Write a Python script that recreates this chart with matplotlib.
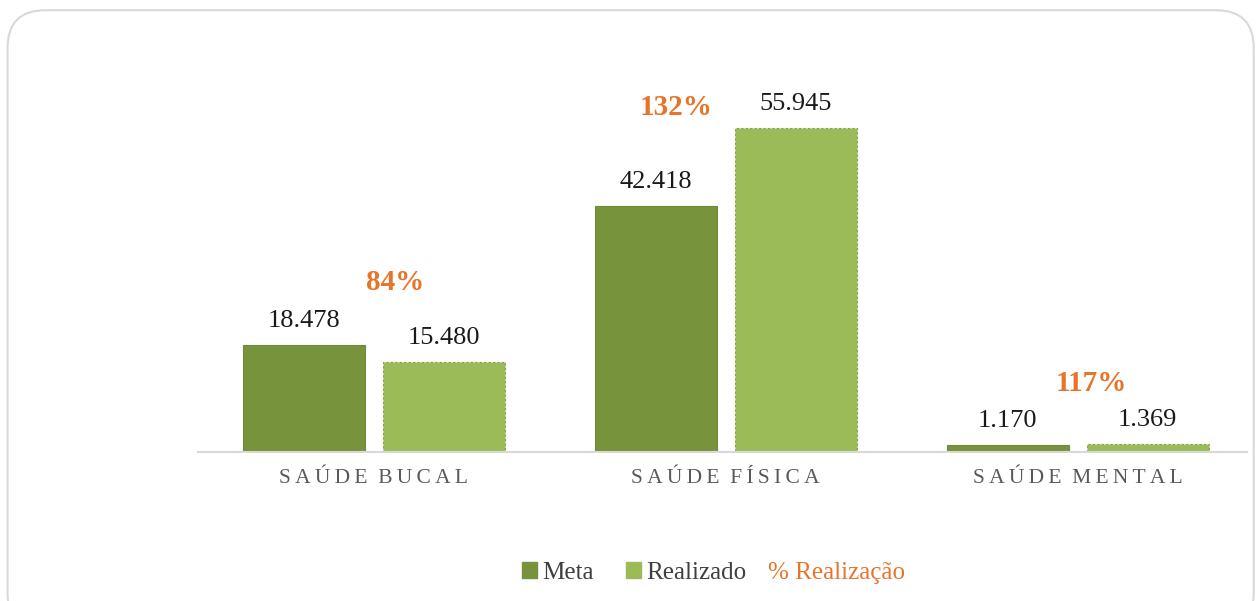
import numpy as np
import matplotlib.pyplot as plt
from matplotlib.patches import Patch, FancyBboxPatch

categories = ['SAÚDE BUCAL', 'SAÚDE FÍSICA', 'SAÚDE MENTAL']
meta = [18478, 42418, 1170]
realizado = [15480, 55945, 1369]
pct = ['84%', '132%', '117%']
# where the % labels sit (data units)
pct_y = [29200, 59400, 11800]
pct_dx = [0.06, -0.14, 0.04]

c_meta = '#77933C'
c_real = '#9BBB59'
c_orange = '#E8742A'

plt.rcParams['font.family'] = ['Liberation Serif', 'DejaVu Serif']

fig = plt.figure(figsize=(12.6, 6.01), dpi=100)
frame = FancyBboxPatch((0.006, -0.05), 0.989, 1.033, boxstyle='round,pad=0,rounding_size=0.03',
                       transform=fig.transFigure, fc='white', ec='#D9D9D9', lw=1.5,
                       mutation_aspect=1260 / 601, zorder=-5)
fig.patches.append(frame)

ax = fig.add_axes([0.157, 0.248, 0.838, 0.694])
ax.set_facecolor('none')

x = np.arange(len(categories))
w = 0.347
off = 0.199
b1 = ax.bar(x - off, meta, w, color=c_meta, edgecolor='#6F8A38', lw=0.8)
b2 = ax.bar(x + off, realizado, w, color=c_real, edgecolor='#86A34A', lw=0.8, linestyle=(0, (2, 2)))

for bars in (b1, b2):
    for r in bars:
        h = r.get_height()
        ax.text(r.get_x() + r.get_width() / 2, h + 2300, f'{h:,}'.replace(',', '.'),
                ha='center', va='bottom', fontsize=19, color='#1A1A1A')

for i, p in enumerate(pct):
    ax.text(x[i] + pct_dx[i], pct_y[i], p, ha='center', va='center', fontsize=21,
            fontweight='bold', color=c_orange)


def spaced(s):
    return '  '.join('\u2009'.join(wd) for wd in s.split())


ax.set_xlim(-0.5, 2.5)
ax.set_ylim(0, 72000)
ax.set_yticks([])
ax.set_xticks(x)
ax.set_xticklabels([spaced(c) for c in categories], fontsize=15.5, color='#595959')
ax.tick_params(axis='x', length=0, pad=12)
for s in ['top', 'right', 'left']:
    ax.spines[s].set_visible(False)
ax.spines['bottom'].set_color('#D9D9D9')
ax.spines['bottom'].set_linewidth(1.5)
ax.spines['bottom'].set_bounds(-0.5, 2.48)

handles = [Patch(color=c_meta), Patch(color=c_real)]
leg = fig.legend(handles, ['Meta', 'Realizado'], loc='center left',
                 bbox_to_anchor=(522 / 1260, 0.047), ncol=2, frameon=False, fontsize=18,
                 borderpad=0, borderaxespad=0,
                 handlelength=0.6, handleheight=0.6, handletextpad=0.2, columnspacing=1.3)
for t in leg.get_texts():
    t.set_color('#404040')
fig.text(768 / 1260, 0.047, '% Realização', ha='left', va='center', fontsize=18, color=c_orange)

fig.savefig('out.png', dpi=100)
